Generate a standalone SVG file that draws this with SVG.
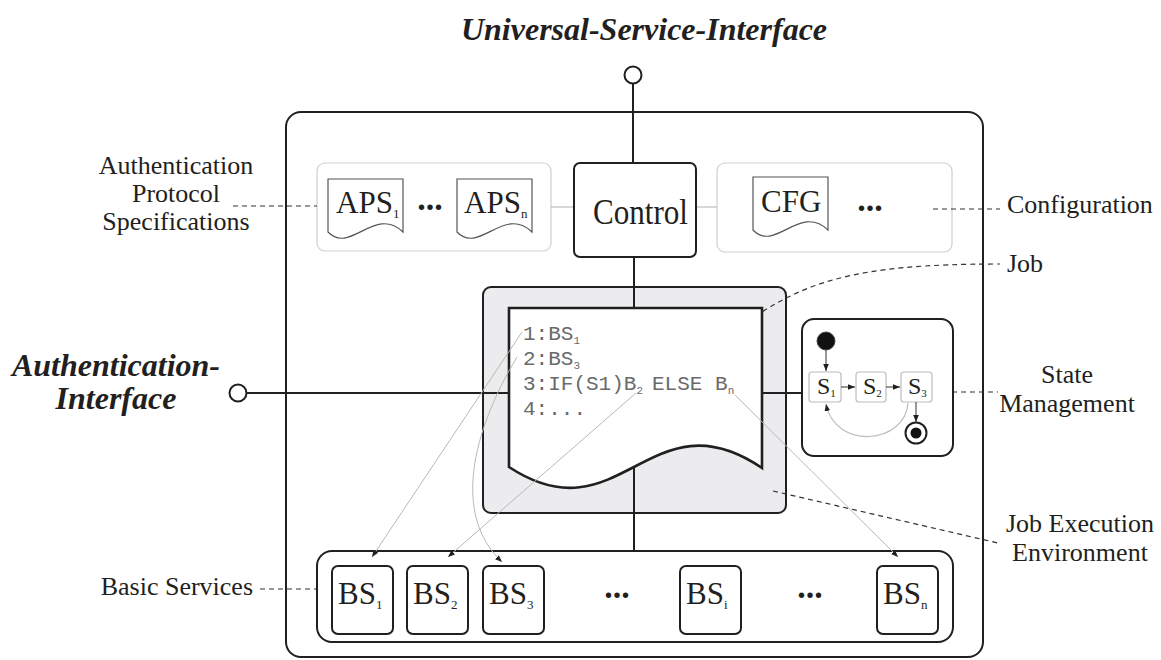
<svg xmlns="http://www.w3.org/2000/svg" width="1161" height="660" viewBox="0 0 1161 660">
  <style>
    .ink { fill: none; stroke: #231f20; stroke-width: 2; }
    .box { fill: #fff; stroke: #231f20; stroke-width: 2; }
    .grp { fill: #fff; stroke: #cfcfcf; stroke-width: 1.2; }
    .icon { fill: #fff; stroke: #555; stroke-width: 1.2; }
    .st { fill: #fff; stroke: #bdbdbd; stroke-width: 1.2; }
    .dash { fill: none; stroke: #333; stroke-width: 1.2; stroke-dasharray: 5 4; }
    .map { fill: none; stroke: #b8b8b8; stroke-width: 1; }
    .thin { fill: none; stroke: #bdbdbd; stroke-width: 1.2; }
    .lbl { font-family: "Liberation Serif", "Times New Roman", serif; font-size: 26px; fill: #231f20; }
    .title { font-family: "Liberation Serif", "Times New Roman", serif; font-size: 32px; font-weight: bold; font-style: italic; fill: #231f20; }
    .big { font-family: "Liberation Serif", "Times New Roman", serif; font-size: 31px; fill: #231f20; }
    .sub { font-size: 13px; }
    .dots { font-family: "Liberation Serif", "Times New Roman", serif; font-size: 34px; font-weight: bold; fill: #231f20; }
    .code { font-family: "Liberation Mono", "Courier New", monospace; font-size: 21px; fill: #6a6a6a; }
    .csub { font-size: 11px; }
    .s { font-family: "Liberation Serif", "Times New Roman", serif; font-size: 24px; fill: #231f20; }
  </style>
  <defs>
    <marker id="ah" viewBox="0 0 10 10" refX="10" refY="5" markerWidth="7" markerHeight="7" markerUnits="userSpaceOnUse" orient="auto">
      <path d="M0,1 L10,5 L0,9 z" fill="#231f20"/>
    </marker>
    <!-- small document icon with wavy bottom edge -->
    <path id="doc" d="M0,0 H75 V53 C47,26 22,76 0,53 Z"/>
  </defs>

  <rect width="1161" height="660" fill="#fff"/>

  <!-- titles / interface labels -->
  <text class="title" x="644" y="40" text-anchor="middle">Universal-Service-Interface</text>
  <text class="title" x="116" y="376" text-anchor="middle">Authentication-</text>
  <text class="title" x="116" y="409" text-anchor="middle">Interface</text>

  <!-- side labels -->
  <text class="lbl" x="176" y="174" text-anchor="middle">Authentication</text>
  <text class="lbl" x="176" y="202" text-anchor="middle">Protocol</text>
  <text class="lbl" x="176" y="230" text-anchor="middle">Specifications</text>
  <text class="lbl" x="1007" y="213">Configuration</text>
  <text class="lbl" x="1007" y="272">Job</text>
  <text class="lbl" x="1067" y="383" text-anchor="middle">State</text>
  <text class="lbl" x="1067" y="412" text-anchor="middle">Management</text>
  <text class="lbl" x="1080" y="532" text-anchor="middle">Job Execution</text>
  <text class="lbl" x="1080" y="561" text-anchor="middle">Environment</text>
  <text class="lbl" x="253" y="595" text-anchor="end">Basic Services</text>

  <!-- outer component -->
  <g id="component">
    <rect class="ink" x="286" y="112" width="697" height="545" rx="15"/>
  </g>

  <!-- interface sockets -->
  <g id="usi-port">
    <circle class="box" cx="633" cy="75" r="8.5"/>
  </g>
  <g id="ai-port">
    <circle class="box" cx="238" cy="393" r="8.5"/>
  </g>

  <!-- authentication protocol specifications -->
  <g id="aps">
    <rect class="grp" x="317" y="163" width="234" height="88" rx="8"/>
    <use href="#doc" class="icon" transform="translate(328,179)"/>
    <use href="#doc" class="icon" transform="translate(457,179)"/>
    <text class="big" x="336" y="213">APS<tspan class="sub" dy="5">1</tspan></text>
    <text class="big" x="464" y="213">APS<tspan class="sub" dy="5">n</tspan></text>
    <text class="dots" x="430" y="210" text-anchor="middle">...</text>
  </g>

  <!-- configuration -->
  <g id="cfg">
    <rect class="grp" x="717" y="163" width="235" height="89" rx="8"/>
    <use href="#doc" class="icon" transform="translate(753,177)"/>
    <text class="big" x="761" y="212">CFG</text>
    <text class="dots" x="870" y="211" text-anchor="middle">...</text>
  </g>

  <!-- job execution environment -->
  <g id="jee">
    <rect x="483" y="287" width="303" height="226" rx="8" fill="#ececee" stroke="#231f20" stroke-width="2"/>
  </g>

  <!-- connectors -->
  <g id="connectors">
    <line class="ink" x1="633" y1="84" x2="633" y2="163"/>
    <line class="ink" x1="634" y1="257" x2="634" y2="551"/>
    <line class="ink" x1="247" y1="393" x2="509" y2="393"/>
    <line class="ink" x1="762" y1="393" x2="802" y2="393"/>
    <line class="thin" x1="551" y1="207" x2="574" y2="207"/>
    <line class="thin" x1="696" y1="207" x2="717" y2="207"/>
    <!-- annotation leaders -->
    <line class="dash" x1="233" y1="206" x2="317" y2="206"/>
    <line class="dash" x1="933" y1="209" x2="1000" y2="209"/>
    <path class="dash" d="M733,332 C800,282 850,264 1000,264"/>
    <line class="dash" x1="934" y1="392" x2="998" y2="392"/>
    <line class="dash" x1="773" y1="491" x2="998" y2="543"/>
    <line class="dash" x1="260" y1="589" x2="331" y2="589"/>
  </g>

  <!-- control -->
  <g id="control">
    <rect class="box" x="574" y="163" width="122" height="94" rx="6"/>
    <text class="big" x="593" y="224" style="font-size:35px" textLength="95" lengthAdjust="spacingAndGlyphs">Control</text>
  </g>

  <!-- job document -->
  <g id="job">
    <path d="M509,308 H762 V468 C650,392 620,540 509,467 Z" fill="#fff" stroke="#231f20" stroke-width="2.6"/>
    <text class="code" x="523" y="340">1:BS<tspan class="csub" dy="4">1</tspan></text>
    <text class="code" x="523" y="365">2:BS<tspan class="csub" dy="4">3</tspan></text>
    <text class="code" x="523" y="390">3:IF(S1)B<tspan class="csub" dy="4">2</tspan><tspan x="652" dy="-4">ELSE B</tspan><tspan class="csub" dy="4">n</tspan></text>
    <text class="code" x="523" y="415">4:...</text>
  </g>

  <!-- state management -->
  <g id="state">
    <rect class="box" x="802" y="319" width="151" height="137" rx="12"/>
    <circle cx="826" cy="341" r="9" fill="#111" stroke="#444" stroke-width="1"/>
    <rect class="st" x="809" y="372" width="32" height="30" rx="3"/>
    <rect class="st" x="856" y="372" width="30" height="30" rx="3"/>
    <rect class="st" x="901" y="372" width="31" height="30" rx="3"/>
    <text class="s" x="817" y="394">S<tspan class="csub" dy="3">1</tspan></text>
    <text class="s" x="863" y="394">S<tspan class="csub" dy="3">2</tspan></text>
    <text class="s" x="908" y="394">S<tspan class="csub" dy="3">3</tspan></text>
    <circle cx="916" cy="433" r="10.5" fill="#fff" stroke="#231f20" stroke-width="2"/>
    <circle cx="916" cy="433" r="5.5" fill="#111"/>
    <line stroke="#333" stroke-width="1" x1="826" y1="350" x2="826" y2="371" marker-end="url(#ah)"/>
    <line stroke="#333" stroke-width="1" x1="841" y1="387" x2="855" y2="387" marker-end="url(#ah)"/>
    <line stroke="#333" stroke-width="1" x1="886" y1="387" x2="900" y2="387" marker-end="url(#ah)"/>
    <line stroke="#333" stroke-width="1" x1="916" y1="402" x2="916" y2="422" marker-end="url(#ah)"/>
    <path class="thin" d="M908,403 C905,445 835,450 826,404" marker-end="url(#ah)"/>
  </g>

  <!-- basic services -->
  <g id="basic-services">
    <rect class="box" x="317" y="551" width="636" height="91" rx="15"/>
    <rect class="box" x="332" y="566" width="61" height="68" rx="6"/>
    <rect class="box" x="407" y="566" width="61" height="68" rx="6"/>
    <rect class="box" x="483" y="566" width="61" height="68" rx="6"/>
    <rect class="box" x="680" y="566" width="61" height="68" rx="6"/>
    <rect class="box" x="877" y="566" width="61" height="68" rx="6"/>
    <text class="big" x="338" y="604">BS<tspan class="sub" dy="5">1</tspan></text>
    <text class="big" x="413" y="604">BS<tspan class="sub" dy="5">2</tspan></text>
    <text class="big" x="489" y="604">BS<tspan class="sub" dy="5">3</tspan></text>
    <text class="big" x="686" y="604">BS<tspan class="sub" dy="5">i</tspan></text>
    <text class="big" x="883" y="604">BS<tspan class="sub" dy="5">n</tspan></text>
    <text class="dots" x="617" y="598" text-anchor="middle">...</text>
    <text class="dots" x="810" y="598" text-anchor="middle">...</text>
  </g>

  <!-- job steps mapped to basic services -->
  <g id="mappings">
    <line class="map" x1="522" y1="332" x2="372" y2="557" marker-end="url(#ah)"/>
    <path class="map" d="M517,357 C472,432 452,515 502,562" marker-end="url(#ah)"/>
    <line class="map" x1="636" y1="393" x2="448" y2="557" marker-end="url(#ah)"/>
    <line class="map" x1="735" y1="395" x2="898" y2="557" marker-end="url(#ah)"/>
  </g>
</svg>
